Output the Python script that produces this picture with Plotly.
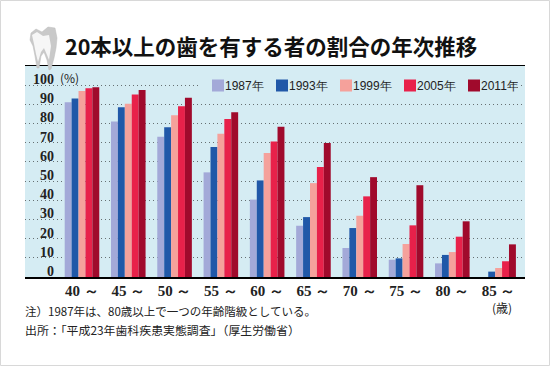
import plotly.graph_objects as go

ages = ["40 ～", "45 ～", "50 ～", "55 ～", "60 ～", "65 ～", "70 ～", "75 ～", "80 ～", "85 ～"]
y1987 = [91, 81, 73, 54.5, 40.3, 26.7, 15.1, 9, 7.1, None]
y1993 = [93, 88.4, 78, 67.7, 50.3, 31.2, 25.5, 9.7, 11.5, 2.8]
y1999 = [96.9, 90.3, 84.2, 74.6, 64.6, 48.9, 31.9, 17.2, 13, 4.7]
y2005 = [98.3, 95, 89, 82.3, 70.6, 57.3, 42, 26.9, 21, 8.2]
y2011 = [98.8, 97.4, 93.4, 85.8, 78.3, 69.8, 52, 47.8, 29, 17]
series = [("1987年", y1987, "#a3a9d8"), ("1993年", y1993, "#2058a8"), ("1999年", y1999, "#f5a19b"),
          ("2005年", y2005, "#e8214a"), ("2011年", y2011, "#a00a2c")]
y_ticks = [0, 10, 20, 30, 40, 50, 60, 70, 80, 90, 100]

W, H = 550, 366
L, R, T, B = 25, 25, 66, 89
PW, PH = W - L - R, H - T - B
def px(x): return (x - L) / PW
def py(y): return 1 - (y - T) / PH
def poly(points):
    return " ".join([("M" if i == 0 else "L") + f"{px(a)},{py(b)}" for i, (a, b) in enumerate(points)]) + " Z"

fig = go.Figure()
for name, vals, color in series:
    fig.add_bar(x=list(range(len(ages))), y=vals, name=name, marker=dict(color=color, line=dict(width=0)))

tooth = [(31, 33), (36, 29), (42, 32), (48, 27), (55, 28), (57, 38), (56, 48), (54, 58), (51, 69), (49, 70),
         (47, 60), (44, 52), (41, 56), (39, 68), (37, 68), (35, 56), (33, 46), (30, 40)]
tooth_light = [(32, 35), (37, 32), (43, 36), (49, 35), (51, 46), (49, 60), (47, 55), (44, 48), (41, 52), (38, 62),
               (36, 54), (34, 44)]

fig.update_layout(
    width=W, height=H, margin=dict(l=L, r=R, t=T, b=B, pad=0, autoexpand=False),
    paper_bgcolor="white", plot_bgcolor="#d5ecf3", barmode="group", bargap=0.253, bargroupgap=0,
    font=dict(family="Noto Sans CJK JP", color="#222"), hovermode=False,
    xaxis=dict(range=[-1.231, 9.57], tickmode="array", tickvals=list(range(len(ages))), ticktext=ages,
               showgrid=False, zeroline=False, showline=True, linecolor="black", linewidth=1.5,
               ticks="", ticklabelstandoff=-1,
               tickfont=dict(family="Liberation Serif", size=15, color="#222", weight="bold")),
    yaxis=dict(range=[0, 109.9], tickmode="array", tickvals=y_ticks, ticktext=[str(v) for v in y_ticks],
               anchor="free", position=px(54), showgrid=True, gridcolor="#667072", griddash="1px 3px", gridwidth=1.4,
               zeroline=False, showline=False, ticks="", ticklabelshift=-6,
               tickfont=dict(family="Liberation Serif", size=14, color="#222", weight="bold")),
    legend=dict(orientation="h", x=px(198), xanchor="left", y=py(71), yanchor="top", bgcolor="#d5ecf3",
                entrywidth=19, entrywidthmode="pixels", itemclick=False, itemdoubleclick=False, traceorder="normal",
                font=dict(family="Liberation Sans", size=12, color="#222"), tracegroupgap=0, itemwidth=30),
    annotations=[
        dict(text="<b>20本以上の歯を有する者の割合の年次推移</b>", x=px(63), y=py(45.5), xref="paper", yref="paper",
             xanchor="left", yanchor="middle", showarrow=False, font=dict(size=21.5, color="#111")),
        dict(text="(%)", x=px(58), y=py(77), xref="paper", yref="paper", xanchor="left", yanchor="middle",
             showarrow=False, font=dict(size=12, color="#222")),
        dict(text="(歳)", x=px(490), y=py(307), xref="paper", yref="paper", xanchor="left", yanchor="middle",
             showarrow=False, font=dict(size=12, color="#222")),
        dict(text="注）1987年は、80歳以上で一つの年齢階級としている。", x=px(23), y=py(311), xref="paper", yref="paper",
             xanchor="left", yanchor="middle", showarrow=False, font=dict(size=11.5, color="#222")),
        dict(text="出所：「平成23年歯科疾患実態調査」（厚生労働省）", x=px(23), y=py(329), xref="paper", yref="paper",
             xanchor="left", yanchor="middle", showarrow=False, font=dict(size=11.9, color="#222")),
    ],
    shapes=[
        dict(type="rect", xref="paper", yref="paper", x0=px(0.5), x1=px(549.5), y0=py(0.5), y1=py(365.5),
             line=dict(color="#d8d8d8", width=1), fillcolor="rgba(0,0,0,0)", layer="below"),
        dict(type="line", xref="paper", yref="paper", x0=0, x1=1, y0=py(65.5), y1=py(65.5),
             line=dict(color="black", width=1.2)),
        dict(type="path", xref="paper", yref="paper", layer="above", path=poly(tooth),
             fillcolor="#c9c9c9", line=dict(color="#bdbdbd", width=0.5)),
        dict(type="path", xref="paper", yref="paper", layer="above", path=poly(tooth_light),
             fillcolor="#f6f6f6", line=dict(width=0)),
    ],
)
post = """
var g = document.querySelector('.plotly-graph-div');
g.querySelectorAll('.legendtext').forEach(function(t){ t.setAttribute('x', 27); });
"""
fig.write_html("out.html", config=dict(displayModeBar=False), post_script="document.body.style.margin='0';" + post)
